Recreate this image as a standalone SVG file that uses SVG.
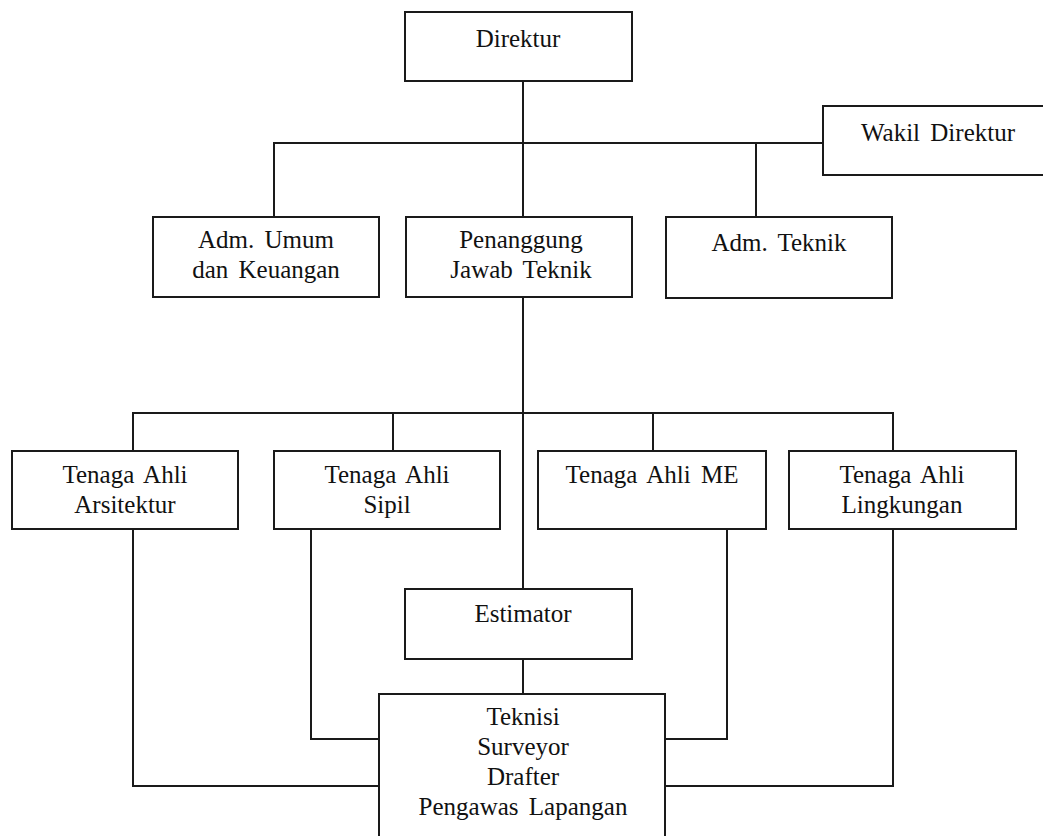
<svg xmlns="http://www.w3.org/2000/svg" width="1043" height="836" viewBox="0 0 1043 836">
<style>
.box{fill:#fff;stroke:#1a1a1a;stroke-width:2}
.ln{fill:none;stroke:#1a1a1a;stroke-width:2}
text{font-family:"Liberation Serif","Times New Roman",serif;font-size:25px;fill:#111;text-anchor:middle;word-spacing:4px}
</style>
<rect width="1043" height="836" fill="#fff"/>
<g id="connectors">
<path class="ln" d="M523,81 V589 M274,217 V143 H823 M756,143 V217 M133,451 V413 H893 V451 M393,413 V451 M653,413 V451 M523,659 V694 M133,529 V786 H379 M311,529 V739 H379 M727,529 V739 H665 M893,529 V786 H665"/>
</g>
<g id="direktur"><rect class="box" x="405" y="12" width="227" height="69"/><text x="518" y="47">Direktur</text></g>
<g id="wakil"><rect class="box" x="823" y="106" width="230" height="69"/><text x="938" y="141">Wakil Direktur</text></g>
<g id="adm-umum"><rect class="box" x="153" y="217" width="226" height="80"/><text x="266" y="248">Adm. Umum</text><text x="266" y="278">dan Keuangan</text></g>
<g id="penanggung"><rect class="box" x="406" y="217" width="226" height="80"/><text x="521" y="248">Penanggung</text><text x="521" y="278">Jawab Teknik</text></g>
<g id="adm-teknik"><rect class="box" x="666" y="217" width="226" height="81"/><text x="779" y="251">Adm. Teknik</text></g>
<g id="ta-arsitektur"><rect class="box" x="12" y="451" width="226" height="78"/><text x="125" y="483">Tenaga Ahli</text><text x="125" y="513">Arsitektur</text></g>
<g id="ta-sipil"><rect class="box" x="274" y="451" width="226" height="78"/><text x="387" y="483">Tenaga Ahli</text><text x="387" y="513">Sipil</text></g>
<g id="ta-me"><rect class="box" x="538" y="451" width="228" height="78"/><text x="652" y="483">Tenaga Ahli ME</text></g>
<g id="ta-lingkungan"><rect class="box" x="789" y="451" width="227" height="78"/><text x="902" y="483">Tenaga Ahli</text><text x="902" y="513">Lingkungan</text></g>
<g id="estimator"><rect class="box" x="405" y="589" width="227" height="70"/><text x="523" y="622">Estimator</text></g>
<g id="teknisi"><rect class="box" x="379" y="694" width="286" height="160"/><text x="523" y="725">Teknisi</text><text x="523" y="755">Surveyor</text><text x="523" y="785">Drafter</text><text x="523" y="815">Pengawas Lapangan</text></g>
</svg>
